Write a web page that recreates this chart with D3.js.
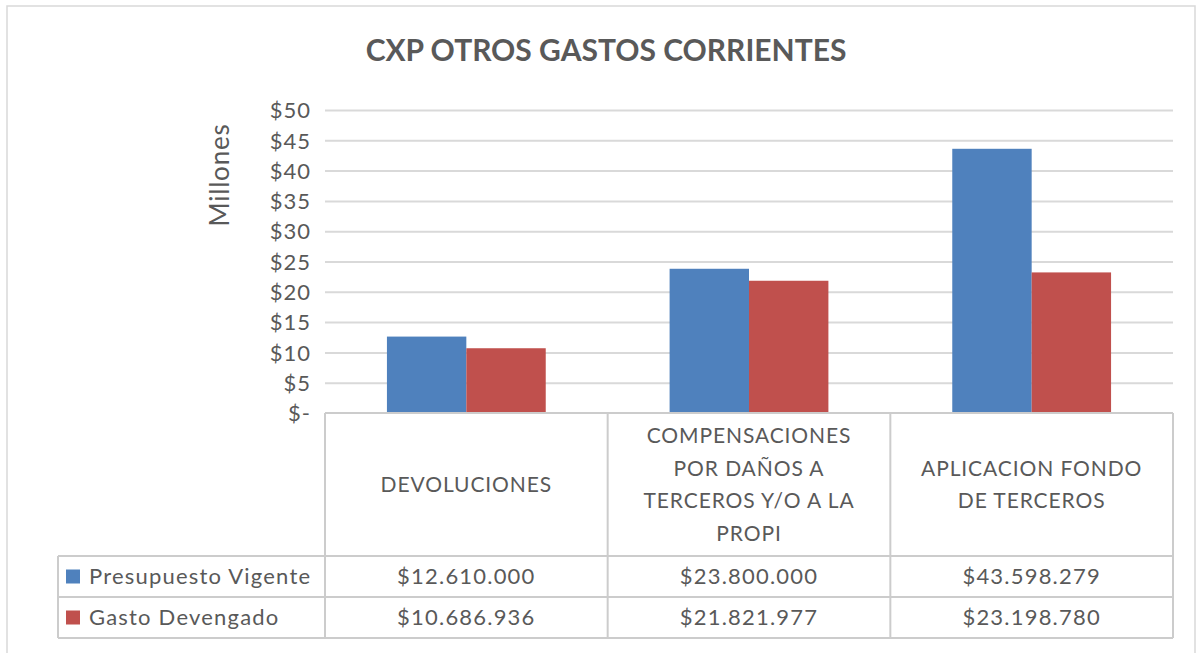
<!DOCTYPE html>
<html>
<head>
<meta charset="utf-8">
<script src="https://cdn.jsdelivr.net/npm/d3@7"></script>
<style>
  body { margin: 0; background: #fff; }
  svg text { font-family: Lato, "Open Sans", sans-serif; fill: #595959; }
</style>
</head>
<body>
<div id="chart"></div>
<script>
// categories and series
const categories = ["DEVOLUCIONES", "COMPENSACIONES POR DAÑOS A TERCEROS Y/O A LA PROPI", "APLICACION FONDO DE TERCEROS"];
const categoryLines = [
    ["DEVOLUCIONES"],
    ["COMPENSACIONES", "POR DAÑOS A", "TERCEROS Y/O A LA", "PROPI"],
    ["APLICACION FONDO", "DE TERCEROS"]
];
const seriesNames = ["Presupuesto Vigente", "Gasto Devengado"];
const presupuesto = [12610000, 23800000, 43598279];
const devengado = [10686936, 21821977, 23198780];
const yTicks = [0, 5, 10, 15, 20, 25, 30, 35, 40, 45, 50];
const colors = ["#4f81bd", "#c0504d"];

const width = 1204, height = 653;
const plot = { left: 325, right: 1173, top: 110, bottom: 413 };
const table = { left: 58, rowTop: 556, rowMid: 597, rowBottom: 638 };

const svg = d3.select("#chart").append("svg")
    .attr("width", width)
    .attr("height", height);

// outer chart border
svg.append("rect")
    .attr("x", 7).attr("y", 6)
    .attr("width", 1188).attr("height", 660)
    .attr("fill", "none")
    .attr("stroke", "#d9d9d9")
    .attr("stroke-width", 1.5);

svg.append("text")
    .attr("x", 606).attr("y", 61)
    .attr("text-anchor", "middle")
    .style("font-size", "30px")
    .style("font-weight", "bold")
    .text("CXP OTROS GASTOS CORRIENTES");

const x = d3.scaleBand().domain(categories).range([plot.left, plot.right]).padding(0);
const xs = d3.scaleBand().domain(seriesNames).range([0, x.bandwidth()]).paddingOuter(0.78).paddingInner(0);
const y = d3.scaleLinear().domain([0, 50]).range([plot.bottom, plot.top]);

// gridlines + y labels
const yAxis = svg.append("g")
    .attr("transform", `translate(${plot.left},0)`)
    .call(d3.axisLeft(y)
        .tickValues(yTicks)
        .tickSize(-(plot.right - plot.left))
        .tickPadding(14)
        .tickFormat(d => d === 0 ? "$-" : "$" + d));
yAxis.select(".domain").remove();
yAxis.selectAll(".tick line").attr("stroke", "#d9d9d9").attr("stroke-width", 2);
yAxis.selectAll(".tick text")
    .style("font-size", "22px")
    .style("letter-spacing", "1px")
    .attr("dy", "0.35em");
yAxis.selectAll(".tick").filter(d => d === 0).select("line").remove();

svg.append("text")
    .attr("transform", `translate(229,175) rotate(-90)`)
    .attr("text-anchor", "middle")
    .style("font-size", "26px")
    .style("letter-spacing", "0.8px")
    .text("Millones");

// bars
const values = [presupuesto, devengado];
const groups = svg.append("g").selectAll("g")
    .data(categories)
    .join("g")
    .attr("transform", d => `translate(${x(d)},0)`);

groups.selectAll("rect")
    .data((d, i) => seriesNames.map((s, j) => ({ s, v: values[j][i] / 1e6, c: colors[j] })))
    .join("rect")
    .attr("x", d => xs(d.s))
    .attr("width", xs.bandwidth())
    .attr("y", d => y(d.v))
    .attr("height", d => y(0) - y(d.v))
    .attr("fill", d => d.c);

// data table
const lineColor = "#cccccc";
const grid = svg.append("g").attr("stroke", lineColor).attr("stroke-width", 2);
grid.append("line").attr("x1", plot.left).attr("x2", plot.right).attr("y1", plot.bottom).attr("y2", plot.bottom);
[table.rowTop, table.rowMid, table.rowBottom].forEach(yy => {
    grid.append("line").attr("x1", table.left).attr("x2", plot.right).attr("y1", yy).attr("y2", yy);
});
grid.append("line").attr("x1", table.left).attr("x2", table.left).attr("y1", table.rowTop).attr("y2", table.rowBottom);
categories.forEach(c => {
    grid.append("line").attr("x1", x(c)).attr("x2", x(c)).attr("y1", plot.bottom).attr("y2", table.rowBottom);
});
grid.append("line").attr("x1", plot.right).attr("x2", plot.right).attr("y1", plot.bottom).attr("y2", table.rowBottom);

// category labels
const lineH = 32.5;
categories.forEach((c, i) => {
    const lines = categoryLines[i];
    const cy = (plot.bottom + table.rowTop) / 2;
    const t = svg.append("text")
        .attr("text-anchor", "middle")
        .style("font-size", "21px")
        .style("letter-spacing", "0.9px");
    lines.forEach((l, k) => {
        t.append("tspan")
            .attr("x", x(c) + x.bandwidth() / 2)
            .attr("y", cy + (k - (lines.length - 1) / 2) * lineH)
            .attr("dy", "0.35em")
            .text(l);
    });
});

// series rows
const locale = d3.formatLocale({ decimal: ",", thousands: ".", grouping: [3], currency: ["$", ""] });
const fmt = locale.format("$,.0f");
const rowY = [(table.rowTop + table.rowMid) / 2, (table.rowMid + table.rowBottom) / 2];

seriesNames.forEach((s, j) => {
    svg.append("rect")
        .attr("x", 66).attr("y", rowY[j] - 7)
        .attr("width", 14).attr("height", 14)
        .attr("fill", colors[j]);
    svg.append("text")
        .attr("x", 89).attr("y", rowY[j])
        .attr("dy", "0.35em")
        .style("font-size", "22px")
        .style("letter-spacing", "1.2px")
        .text(s);
    categories.forEach((c, i) => {
        svg.append("text")
            .attr("x", x(c) + x.bandwidth() / 2)
            .attr("y", rowY[j])
            .attr("dy", "0.35em")
            .attr("text-anchor", "middle")
            .style("font-size", "22px")
            .style("letter-spacing", "1.2px")
            .text(fmt(values[j][i]));
    });
});
</script>
</body>
</html>
